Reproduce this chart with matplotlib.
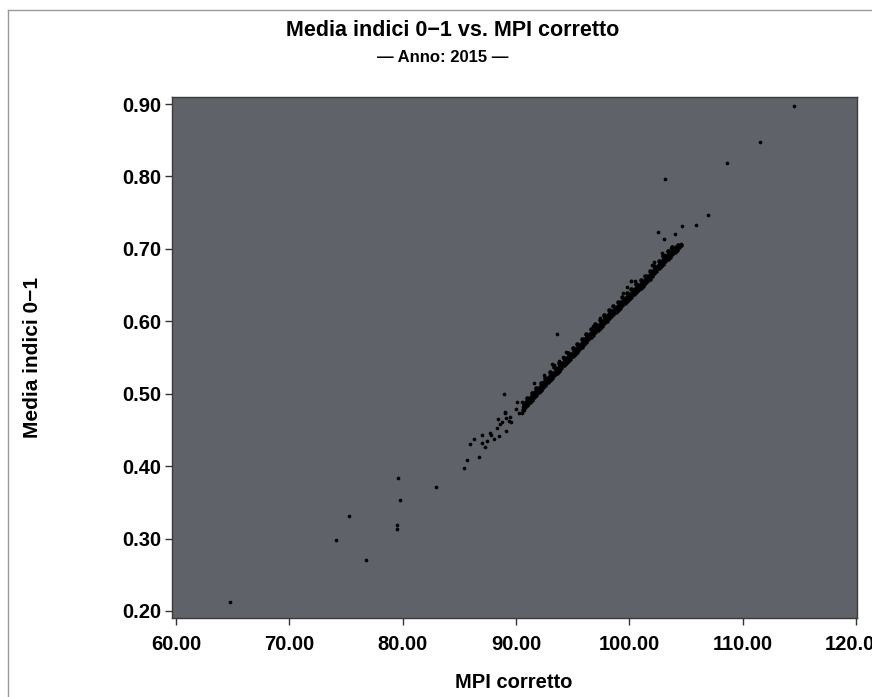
import matplotlib
matplotlib.use("Agg")
import matplotlib.pyplot as plt
from matplotlib.lines import Line2D
from matplotlib.ticker import FormatStrFormatter

plt.rcParams['font.family'] = ['Liberation Sans', 'DejaVu Sans']

# scattered comuni (outliers)
mpi_out = [64.76, 74.13, 75.28, 76.78, 79.52, 79.52, 79.61, 79.78, 82.97, 85.38,
           85.69, 85.98, 86.27, 86.77, 87.30, 86.98, 87.01, 87.45, 87.68, 87.81,
           88.07, 88.51, 89.10, 88.34, 88.57, 88.45, 88.78, 89.01, 89.16, 89.36,
           89.58, 89.45, 89.07, 88.98, 90.04, 90.28, 90.55, 90.75, 90.11, 90.57,
           90.64, 91.04, 91.22, 91.43, 91.72, 91.57, 91.87, 92.17, 92.46, 92.63,
           92.81, 93.05, 93.34, 93.64, 93.93, 94.29, 93.34, 93.64, 96.15, 93.20,
           93.78, 94.17, 94.46, 96.83, 97.41, 97.76, 99.48, 100.12, 102.54, 103.07,
           104.01, 104.70, 105.88, 106.94, 103.16, 108.61, 111.50, 114.51, 99.83, 100.19,
           100.50, 102.04, 102.18, 102.93, 103.13, 103.66, 103.81, 104.55]
media_out = [0.212, 0.298, 0.331, 0.270, 0.319, 0.313, 0.384, 0.353, 0.371, 0.398,
             0.408, 0.430, 0.438, 0.413, 0.426, 0.432, 0.443, 0.435, 0.446, 0.443,
             0.438, 0.442, 0.448, 0.453, 0.458, 0.465, 0.461, 0.473, 0.466, 0.462,
             0.461, 0.468, 0.475, 0.499, 0.479, 0.473, 0.474, 0.478, 0.488, 0.489,
             0.482, 0.486, 0.492, 0.496, 0.497, 0.515, 0.502, 0.505, 0.526, 0.514,
             0.517, 0.523, 0.527, 0.533, 0.537, 0.541, 0.540, 0.583, 0.583, 0.541,
             0.545, 0.550, 0.557, 0.594, 0.605, 0.607, 0.639, 0.655, 0.723, 0.714,
             0.720, 0.731, 0.733, 0.747, 0.796, 0.819, 0.847, 0.897, 0.648, 0.655,
             0.656, 0.678, 0.682, 0.694, 0.692, 0.701, 0.703, 0.707]

# dense band, lower edge
mpi_band_a = [90.6, 90.8, 91.0, 91.2, 91.4, 91.6, 91.8, 92.0, 92.2, 92.4, 92.6, 92.8,
              93.0, 93.2, 93.4, 93.6, 93.8, 94.0, 94.2, 94.4, 94.6, 94.8, 95.0, 95.2,
              95.4, 95.6, 95.8, 96.0, 96.2, 96.4, 96.6, 96.8, 97.0, 97.2, 97.4, 97.6,
              97.8, 98.0, 98.2, 98.4, 98.6, 98.8, 99.0, 99.2, 99.4, 99.6, 99.8, 100.0,
              100.2, 100.4, 100.6, 100.8, 101.0, 101.2, 101.4, 101.6, 101.8, 102.0, 102.2, 102.4,
              102.6, 102.8, 103.0, 103.2, 103.4, 103.6, 103.8, 104.0, 104.2, 104.4, 104.6]
media_band_a = [0.477, 0.481, 0.484, 0.488, 0.491, 0.495, 0.498, 0.502, 0.505, 0.509, 0.512, 0.516,
                0.519, 0.522, 0.526, 0.529, 0.532, 0.535, 0.539, 0.542, 0.545, 0.548, 0.552, 0.555,
                0.558, 0.562, 0.565, 0.568, 0.571, 0.575, 0.578, 0.581, 0.585, 0.588, 0.591, 0.594,
                0.598, 0.601, 0.604, 0.607, 0.610, 0.613, 0.616, 0.619, 0.622, 0.625, 0.628, 0.631,
                0.634, 0.637, 0.640, 0.643, 0.646, 0.649, 0.653, 0.656, 0.659, 0.663, 0.666, 0.669,
                0.673, 0.676, 0.679, 0.683, 0.686, 0.689, 0.693, 0.696, 0.699, 0.703, 0.706]

# dense band, middle
mpi_band_b = [90.7, 90.9, 91.1, 91.3, 91.5, 91.7, 91.9, 92.1, 92.3, 92.5, 92.7, 92.9,
              93.1, 93.3, 93.5, 93.7, 93.9, 94.1, 94.3, 94.5, 94.7, 94.9, 95.1, 95.3,
              95.5, 95.7, 95.9, 96.1, 96.3, 96.5, 96.7, 96.9, 97.1, 97.3, 97.5, 97.7,
              97.9, 98.1, 98.3, 98.5, 98.7, 98.9, 99.1, 99.3, 99.5, 99.7, 99.9, 100.1,
              100.3, 100.5, 100.7, 100.9, 101.1, 101.3, 101.5, 101.7, 101.9, 102.1, 102.3, 102.5,
              102.7, 102.9, 103.1, 103.3, 103.5, 103.7, 103.9, 104.1, 104.3]
media_band_b = [0.484, 0.488, 0.491, 0.495, 0.498, 0.502, 0.505, 0.509, 0.512, 0.516, 0.519, 0.523,
                0.526, 0.529, 0.533, 0.536, 0.539, 0.542, 0.546, 0.549, 0.552, 0.555, 0.559, 0.562,
                0.565, 0.569, 0.572, 0.575, 0.578, 0.582, 0.585, 0.588, 0.592, 0.595, 0.598, 0.601,
                0.605, 0.608, 0.611, 0.614, 0.617, 0.620, 0.623, 0.626, 0.629, 0.632, 0.635, 0.638,
                0.641, 0.644, 0.647, 0.650, 0.653, 0.656, 0.660, 0.663, 0.666, 0.670, 0.673, 0.676,
                0.680, 0.683, 0.686, 0.690, 0.693, 0.696, 0.700, 0.703, 0.706]

# dense band, upper fringe
mpi_band_c = [91.0, 91.4, 91.8, 92.2, 92.6, 93.0, 93.4, 93.8, 94.2, 94.6, 95.0, 95.4,
              95.8, 96.2, 96.6, 97.0, 97.4, 97.8, 98.2, 98.6, 99.0, 99.4, 99.8, 100.2,
              100.6, 101.0, 101.4, 101.8, 102.2, 102.6, 103.0, 103.4, 103.8]
media_band_c = [0.494, 0.501, 0.508, 0.515, 0.522, 0.530, 0.537, 0.543, 0.549, 0.556, 0.563, 0.569,
                0.576, 0.582, 0.589, 0.596, 0.602, 0.609, 0.615, 0.621, 0.627, 0.633, 0.639, 0.645,
                0.651, 0.657, 0.663, 0.670, 0.677, 0.683, 0.690, 0.697, 0.703]

x_ticks = [60, 70, 80, 90, 100, 110, 120]
y_ticks = [0.2, 0.3, 0.4, 0.5, 0.6, 0.7, 0.8, 0.9]

fig = plt.figure(figsize=(8.72, 6.97), dpi=100)
ax = fig.add_axes([172 / 872, 1 - 618 / 697, 685 / 872, 521 / 697])
ax.set_facecolor('#606269')

for xs, ys in [(mpi_band_a, media_band_a), (mpi_band_b, media_band_b),
               (mpi_band_c, media_band_c)]:
    ax.scatter(xs, ys, s=11, color='black', linewidths=0, zorder=3)
ax.scatter(mpi_out, media_out, s=7, color='black', linewidths=0, zorder=3)

ax.set_xlim(59.65, 120.1)
ax.set_ylim(0.1903, 0.9097)
ax.set_xticks(x_ticks)
ax.set_yticks(y_ticks)
ax.xaxis.set_major_formatter(FormatStrFormatter('%.2f'))
ax.yaxis.set_major_formatter(FormatStrFormatter('%.2f'))
ax.tick_params(length=5, width=1, color='#333333', labelsize=14.5, pad=3)
ax.tick_params(axis='x', pad=7)
for lbl in ax.get_xticklabels() + ax.get_yticklabels():
    lbl.set_fontweight('bold')
for sp in ax.spines.values():
    sp.set_color('#3a3a3a')
    sp.set_linewidth(1)

fig.text(453 / 872, 1 - 30 / 697, 'Media indici 0\u22121 vs. MPI corretto',
         ha='center', va='center', fontsize=15.5, fontweight='bold')
fig.text(443 / 872, 1 - 58 / 697, '\u2014 Anno: 2015 \u2014',
         ha='center', va='center', fontsize=12, fontweight='bold')
fig.text(514 / 872, 1 - 683 / 697, 'MPI corretto', ha='center', va='center',
         fontsize=14.5, fontweight='bold')
fig.text(32 / 872, 1 - 357 / 697, 'Media indici 0\u22121', ha='center', va='center',
         rotation=90, fontsize=15, fontweight='bold')

# outer frame of the original output (cut on the right and bottom)
fig.add_artist(Line2D([8 / 872, 1], [1 - 10 / 697, 1 - 10 / 697], color='#999999', lw=1))
fig.add_artist(Line2D([8 / 872, 8 / 872], [0, 1 - 10 / 697], color='#999999', lw=1))

fig.savefig('out.png', dpi=100)
